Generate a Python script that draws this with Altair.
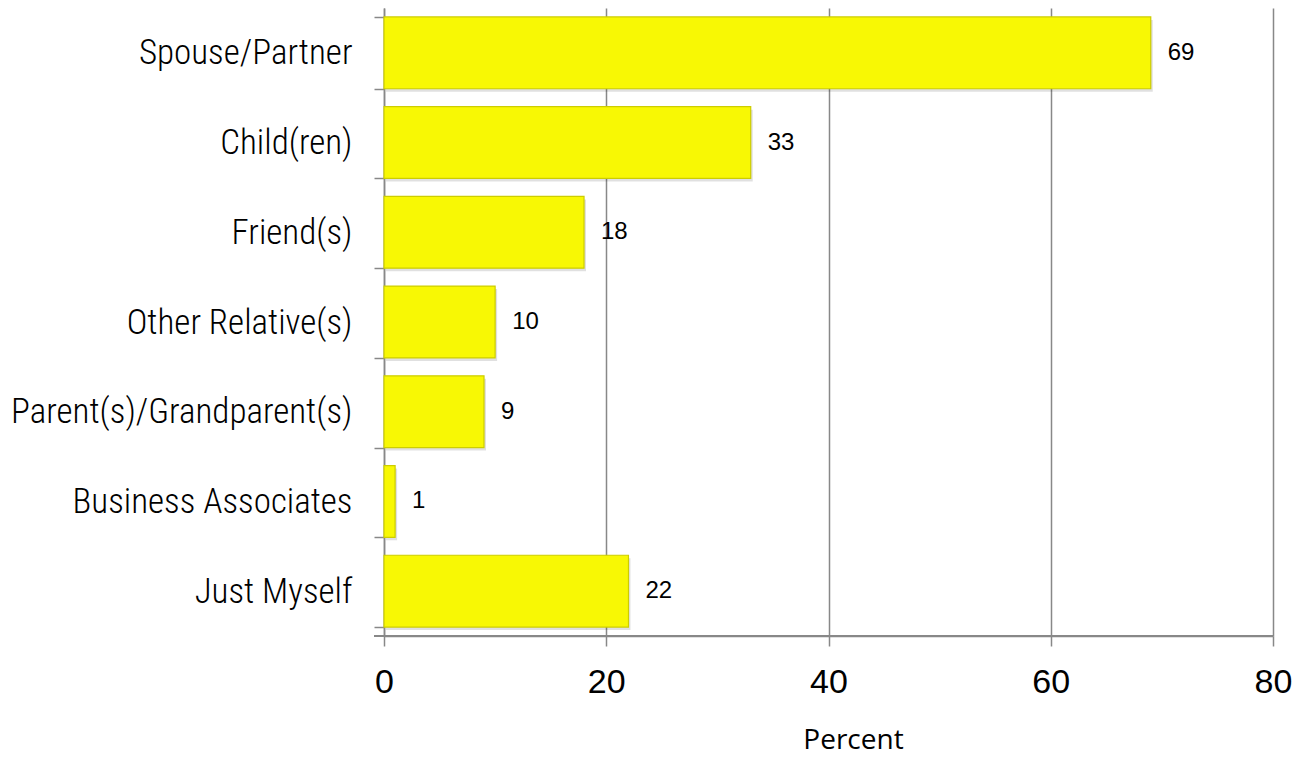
import altair as alt
import pandas as pd

categories = ["Spouse/Partner", "Child(ren)", "Friend(s)", "Other Relative(s)",
              "Parent(s)/Grandparent(s)", "Business Associates", "Just Myself"]
values = [69, 33, 18, 10, 9, 1, 22]
x_ticks = [0, 20, 40, 60, 80]

df = pd.DataFrame({"cat": categories, "val": values})

W, H = 889, 628

y_enc = alt.Y("cat:N", sort=categories,
              scale=alt.Scale(paddingInner=0.2, paddingOuter=0.1),
              axis=alt.Axis(title=None, labelFont="Liberation Sans Narrow, Roboto Condensed, DejaVu Sans Condensed, sans-serif",
                            labelFontSize=35, labelFontWeight=300, labelColor="#000000", labelPadding=22,
                            labelLimit=0,
                            tickBand="extent", tickSize=10, tickColor="#888888", tickWidth=1.5,
                            domainColor="#888888", domainWidth=1.5, grid=False))
x_enc = alt.X("val:Q", scale=alt.Scale(domain=[0, 80], nice=False),
              axis=alt.Axis(values=x_ticks, title="Percent", titleFont="Open Sans, sans-serif",
                            titleFontSize=28, titleFontWeight="normal",
                            titleX=469, titleY=112, titleBaseline="alphabetic", titleAlign="center",
                            titleColor="#000000",
                            labelFont="Liberation Sans, Arial, sans-serif", labelFontSize=34,
                            labelColor="#000000", labelPadding=19, labelFlush=False,
                            tickSize=10, tickColor="#888888", tickWidth=1.5,
                            domainColor="#888888", domainWidth=1.5,
                            grid=True, gridColor="#888888", gridWidth=1.5))

base = alt.Chart(df)

shadow = base.mark_bar(color="#000000", opacity=0.12, xOffset=2, yOffset=3).encode(x=x_enc, y=y_enc)
bars = base.mark_bar(color="#F8F804", stroke="#CDCD00", strokeWidth=1.2).encode(x=x_enc, y=y_enc)
labels = base.mark_text(align="left", baseline="middle", dx=17, fontSize=24,
                        font="Liberation Sans, Arial, sans-serif", color="#000000").encode(
    x="val:Q", y=alt.Y("cat:N", sort=categories), text="val:Q")
xline = alt.Chart(df).mark_rule(color="#888888", strokeWidth=1.5).encode(
    x=alt.value(-10), x2=alt.value(W), y=alt.value(H))

chart = alt.layer(shadow, bars, labels, xline).properties(
    width=W, height=H,
    autosize=alt.AutoSizeParams(type="none"),
    padding={"left": 376, "top": 0, "right": 19, "bottom": 120},
).configure_view(stroke=None)

chart.save("out.html", embed_options={"renderer": "svg", "actions": False})
